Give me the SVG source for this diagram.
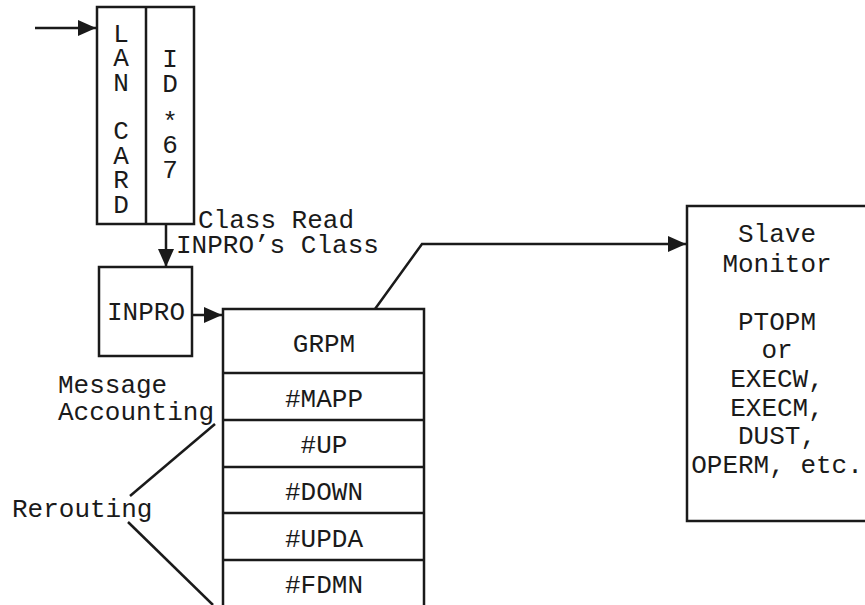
<svg xmlns="http://www.w3.org/2000/svg" width="865" height="605" viewBox="0 0 865 605">
<defs>
<style>
.b{fill:none;stroke:#1a1a1a;stroke-width:2.5}
.t{font-family:"Liberation Mono","Courier New",monospace;font-size:26px;fill:#1a1a1a}
.m{text-anchor:middle}
</style>
<marker id="ah" markerUnits="userSpaceOnUse" markerWidth="18" markerHeight="16" refX="18" refY="8" orient="auto"><path d="M0,0 L18,8 L0,16 z" fill="#1a1a1a"/></marker>
</defs>
<rect width="865" height="605" fill="#fff"/>
<g id="lancard">
<rect class="b" x="97" y="7" width="97" height="217"/>
<line class="b" x1="146" y1="7" x2="146" y2="224"/>
<text class="t m" x="121"><tspan x="121" y="42">L</tspan><tspan x="121" y="66">A</tspan><tspan x="121" y="91">N</tspan><tspan x="121" y="139">C</tspan><tspan x="121" y="164">A</tspan><tspan x="121" y="188">R</tspan><tspan x="121" y="213">D</tspan></text>
<text class="t m" x="170"><tspan x="170" y="67">I</tspan><tspan x="170" y="92">D</tspan><tspan x="170" y="130">*</tspan><tspan x="170" y="153">6</tspan><tspan x="170" y="178">7</tspan></text>
</g>
<g id="inpro">
<rect class="b" x="99" y="267" width="93" height="89"/>
<text class="t m" x="146" y="320">INPRO</text>
</g>
<g id="grpm">
<polyline class="b" points="223,605 223,309 424,309 424,605"/>
<line class="b" x1="223" y1="373" x2="424" y2="373"/>
<line class="b" x1="223" y1="420" x2="424" y2="420"/>
<line class="b" x1="223" y1="467" x2="424" y2="467"/>
<line class="b" x1="223" y1="513" x2="424" y2="513"/>
<line class="b" x1="223" y1="560" x2="424" y2="560"/>
<text class="t m" x="324" y="352">GRPM</text>
<text class="t m" x="324" y="407">#MAPP</text>
<text class="t m" x="324" y="453">#UP</text>
<text class="t m" x="324" y="500">#DOWN</text>
<text class="t m" x="324" y="547">#UPDA</text>
<text class="t m" x="324" y="593">#FDMN</text>
</g>
<g id="slave">
<polyline class="b" points="870,206 687,206 687,521 870,521"/>
<text class="t m" x="777"><tspan x="777" y="242">Slave</tspan><tspan x="777" y="272">Monitor</tspan><tspan x="777" y="330">PTOPM</tspan><tspan x="777" y="358">or</tspan><tspan x="777" y="387">EXECW,</tspan><tspan x="777" y="416">EXECM,</tspan><tspan x="777" y="444">DUST,</tspan><tspan x="777" y="473">OPERM, etc.</tspan></text>
</g>
<g id="labels">
<text class="t" x="198" y="228">Class Read</text>
<text class="t" x="176" y="253">INPRO’s Class</text>
<text class="t" x="58" y="393">Message</text>
<text class="t" x="58" y="420">Accounting</text>
<text class="t" x="12" y="517">Rerouting</text>
</g>
<g id="connectors">
<line class="b" x1="35" y1="28" x2="96" y2="28" marker-end="url(#ah)"/>
<line class="b" x1="166" y1="224" x2="166" y2="267" marker-end="url(#ah)"/>
<line class="b" x1="192" y1="315" x2="222" y2="315" marker-end="url(#ah)"/>
<polyline class="b" points="375,309 422,244 686,244" marker-end="url(#ah)"/>
<line class="b" x1="130" y1="496" x2="215" y2="424"/>
<line class="b" x1="128" y1="522" x2="213" y2="605"/>
</g>
</svg>
